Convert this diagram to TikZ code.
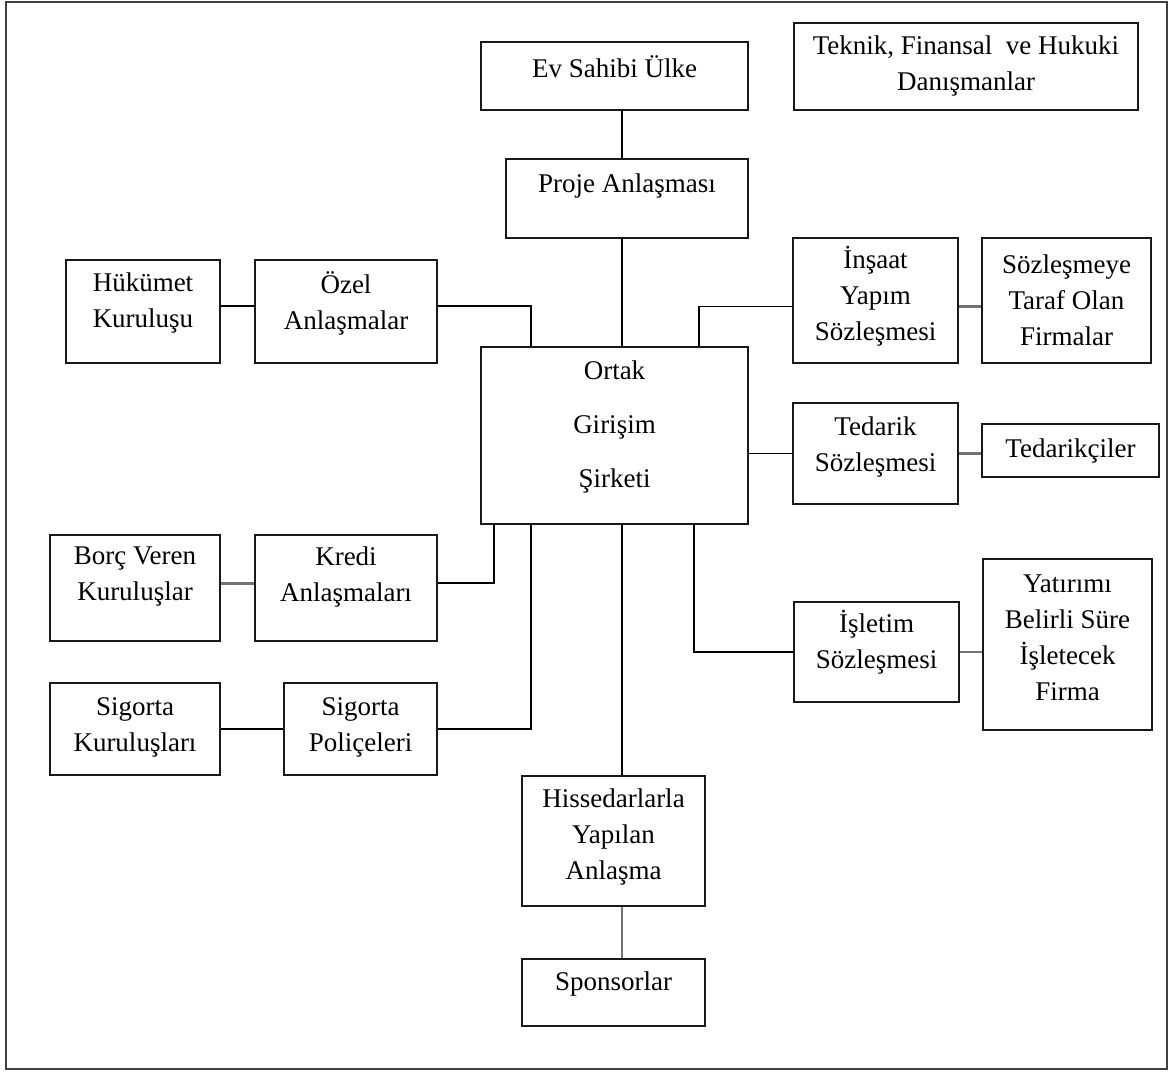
\documentclass[tikz,border=0pt]{standalone}
\usepackage{fontspec}
\setmainfont{Liberation Serif}
\usetikzlibrary{positioning}

\tikzset{
  yazi/.style={align=center, inner sep=0pt, font=\fontsize{13.5}{18}\selectfont},
  bag/.style={line width=0.75pt, draw=black},
  gribag/.style={line width=1.2pt, draw=black!55},
}

\begin{document}
\begin{tikzpicture}[x=0.5pt, y=-0.5pt]
  \useasboundingbox (0,0) rectangle (1173,1072);
  \draw[line width=1pt, draw=black!75] (6,2) rectangle (1167,1069);

  \begin{scope}[every node/.style={draw, line width=1pt, draw=black!90, inner sep=0pt, fill=white}]
    \node[minimum width=133.5pt, minimum height=34pt]   (ev)        at (614.5,76)    {};
    \node[minimum width=172pt,   minimum height=43.5pt] (teknik)    at (966,66.5)    {};
    \node[minimum width=121pt,   minimum height=39.5pt] (proje)     at (627,198.5)   {};
    \node[minimum width=77pt,    minimum height=51.5pt] (hukumet)   at (143,311.5)   {};
    \node[minimum width=91pt,    minimum height=51.5pt] (ozel)      at (346,311.5)   {};
    \node[minimum width=82.5pt,  minimum height=62.5pt] (insaat)    at (875.5,300.5) {};
    \node[minimum width=84.5pt,  minimum height=62.5pt] (sozlesme)  at (1066.5,300.5) {};
    \node[minimum width=133.5pt, minimum height=88.5pt] (ortak)     at (614.5,435.5) {};
    \node[minimum width=82.5pt,  minimum height=50.5pt] (tedarik)   at (875.5,453.5) {};
    \node[minimum width=88.5pt,  minimum height=26.5pt] (tedarikci) at (1070.5,450.5) {};
    \node[minimum width=85pt,    minimum height=53pt]   (borc)      at (135,588)     {};
    \node[minimum width=91pt,    minimum height=53pt]   (kredi)     at (346,588)     {};
    \node[minimum width=85pt,    minimum height=46pt]   (sigorta)   at (135,729)     {};
    \node[minimum width=76.5pt,  minimum height=46pt]   (police)    at (360.5,729)   {};
    \node[minimum width=82.5pt,  minimum height=50pt]   (isletim)   at (876.5,652)   {};
    \node[minimum width=84.5pt,  minimum height=85.5pt] (yatirim)   at (1067.5,644.5) {};
    \node[minimum width=91.5pt,  minimum height=65pt]   (hisse)     at (613.5,841)   {};
    \node[minimum width=91.5pt,  minimum height=33.5pt] (sponsor)   at (613.5,992.5) {};
  \end{scope}

  % box texts
  \begin{scope}[every node/.style={yazi}]
    \node (ev-t)        at ([yshift=4.75pt]ev.center)     {Ev Sahibi Ülke};
    \node (teknik-t)    at (teknik.center)                {Teknik, Finansal\ \ ve Hukuki\\Danışmanlar};
    \node (proje-t)     at ([yshift=6pt]proje.center)     {Proje Anlaşması};
    \node (hukumet-t)   at ([yshift=4.25pt]hukumet.center) {Hükümet\\Kuruluşu};
    \node (ozel-t)      at ([yshift=4.25pt]ozel.center)   {Özel\\Anlaşmalar};
    \node (insaat-t)    at ([yshift=2.25pt]insaat.center) {İnşaat\\Yapım\\Sözleşmesi};
    \node (sozlesme-t)  at (sozlesme.center)              {Sözleşmeye\\Taraf Olan\\Firmalar};
    \node (ortak-t)     at ([yshift=4.5pt]ortak.center)   {Ortak\\[9pt]Girişim\\[9pt]Şirketi};
    \node (tedarik-t)   at ([yshift=3.25pt]tedarik.center) {Tedarik\\Sözleşmesi};
    \node (tedarikci-t) at (tedarikci.center)             {Tedarikçiler};
    \node (borc-t)      at ([yshift=5.5pt]borc.center)    {Borç Veren\\Kuruluşlar};
    \node (kredi-t)     at ([yshift=5.5pt]kredi.center)   {Kredi\\Anlaşmaları};
    \node (sigorta-t)   at ([yshift=0.75pt]sigorta.center) {Sigorta\\Kuruluşları};
    \node (police-t)    at ([yshift=0.75pt]police.center) {Sigorta\\Poliçeleri};
    \node (isletim-t)   at ([yshift=4.75pt]isletim.center) {İşletim\\Sözleşmesi};
    \node (yatirim-t)   at ([yshift=3.25pt]yatirim.center) {Yatırımı\\Belirli Süre\\İşletecek\\Firma};
    \node (hisse-t)     at ([yshift=2pt]hisse.center)     {Hissedarlarla\\Yapılan\\Anlaşma};
    \node (sponsor-t)   at ([yshift=4.5pt]sponsor.center) {Sponsorlar};
  \end{scope}

  % connectors
  \coordinate (omurga) at (622,0);
  \draw[bag] (ev.south -| omurga) -- (proje.north -| omurga);
  \draw[bag] (proje.south -| omurga) -- (ortak.north -| omurga);
  \draw[bag] (ortak.south -| omurga) -- (hisse.north -| omurga);
  \draw[gribag] (hisse.south -| omurga) -- (sponsor.north -| omurga);
  \draw[bag] ([yshift=2.75pt]hukumet.east) -- ([yshift=2.75pt]ozel.west);
  \draw[bag] ([yshift=2.75pt]ozel.east) -| ([xshift=25.5pt]ortak.north west);
  \draw[bag] ([yshift=-3pt]insaat.west) -| ([xshift=-25pt]ortak.north east);
  \draw[gribag] ([yshift=-3pt]insaat.east) -- ([yshift=-3pt]sozlesme.west);
  \draw[bag] (ortak.east |- tedarik.west) -- (tedarik.west);
  \draw[gribag] (tedarik.east) -- (tedarik.east -| tedarikci.west);
  \draw[bag] ([yshift=2.5pt]kredi.east) -| ([xshift=7pt]ortak.south west);
  \draw[gribag] ([yshift=2.25pt]borc.east) -- ([yshift=2.25pt]kredi.west);
  \draw[bag] (police.east) -| ([xshift=25.5pt]ortak.south west);
  \draw[bag] (sigorta.east) -- (police.west);
  \draw[bag] ([xshift=-27.5pt]ortak.south east) |- (isletim.west);
  \draw[gribag] (isletim.east) -- (isletim.east -| yatirim.west);
\end{tikzpicture}
\end{document}
